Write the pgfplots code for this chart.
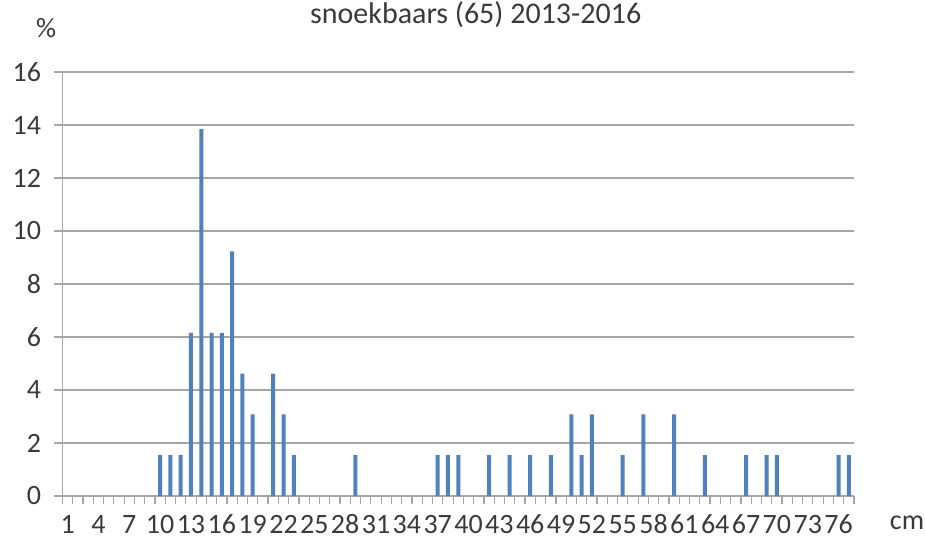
\documentclass[border=0pt]{standalone}
\usepackage{fontspec}
\setmainfont{Carlito}
\usepackage{pgfplots}
\pgfplotsset{compat=1.18}
\definecolor{barblue}{HTML}{4F81BD}
\definecolor{gridgray}{HTML}{A6A6A6}
\definecolor{txt}{HTML}{3A3A3A}
\begin{document}
\begin{tikzpicture}[x=1pt,y=1pt]
\useasboundingbox (0,0) rectangle (925,539);
\begin{axis}[
  at={(62.5pt,43pt)}, anchor=south west,
  scale only axis, width=791.5pt, height=424pt,
  xmin=0.5, xmax=77.5, ymin=0, ymax=16,
  axis x line*=bottom, axis y line*=left,
  axis line style={gridgray, line width=1.2pt},
  ytick={0,2,...,16},
  ymajorgrids, grid style={gridgray, line width=1.2pt},
  xtick={0.5,1.5,...,77.5},
  xticklabels={1,,,4,,,7,,,10,,,13,,,16,,,19,,,22,,,25,,,28,,,31,,,34,,,37,,,40,,,43,,,46,,,49,,,52,,,55,,,58,,,61,,,64,,,67,,,70,,,73,,,76,,,},
  tick align=outside, major tick length=8pt,
  tick style={gridgray, line width=1.2pt},
  /pgf/number format/assume math mode=true,
  every tick label/.append style={font=\fontsize{28}{32}\selectfont, text=txt},
  xticklabel style={anchor=base, xshift=5.14pt, yshift=-29pt},
  yticklabel style={anchor=east, xshift=-10pt},
  title={snoekbaars (65) 2013-2016},
  title style={font=\fontsize{30}{34}\selectfont, text=txt, at={(axis description cs:0.522,1.101)}, anchor=base},
  ylabel={\%},
  ylabel style={font=\fontsize{28}{32}\selectfont, text=txt, rotate=-90, at={(axis description cs:-0.0208,1.0825)}, anchor=base},
  xlabel={cm},
  xlabel style={font=\fontsize{28}{32}\selectfont, text=txt, at={(axis description cs:1.067,-0.078)}, anchor=base},
  ybar, bar width=4pt,
]
\addplot[fill=barblue, draw=none] coordinates {
(10,1.538) (11,1.538) (12,1.538) (13,6.154) (14,13.846) (15,6.154) (16,6.154)
(17,9.231) (18,4.615) (19,3.077) (21,4.615) (22,3.077) (23,1.538) (29,1.538)
(37,1.538) (38,1.538) (39,1.538) (42,1.538) (44,1.538) (46,1.538) (48,1.538)
(50,3.077) (51,1.538) (52,3.077) (55,1.538) (57,3.077) (60,3.077) (63,1.538)
(67,1.538) (69,1.538) (70,1.538) (76,1.538) (77,1.538)
};
\end{axis}
\end{tikzpicture}
\end{document}
